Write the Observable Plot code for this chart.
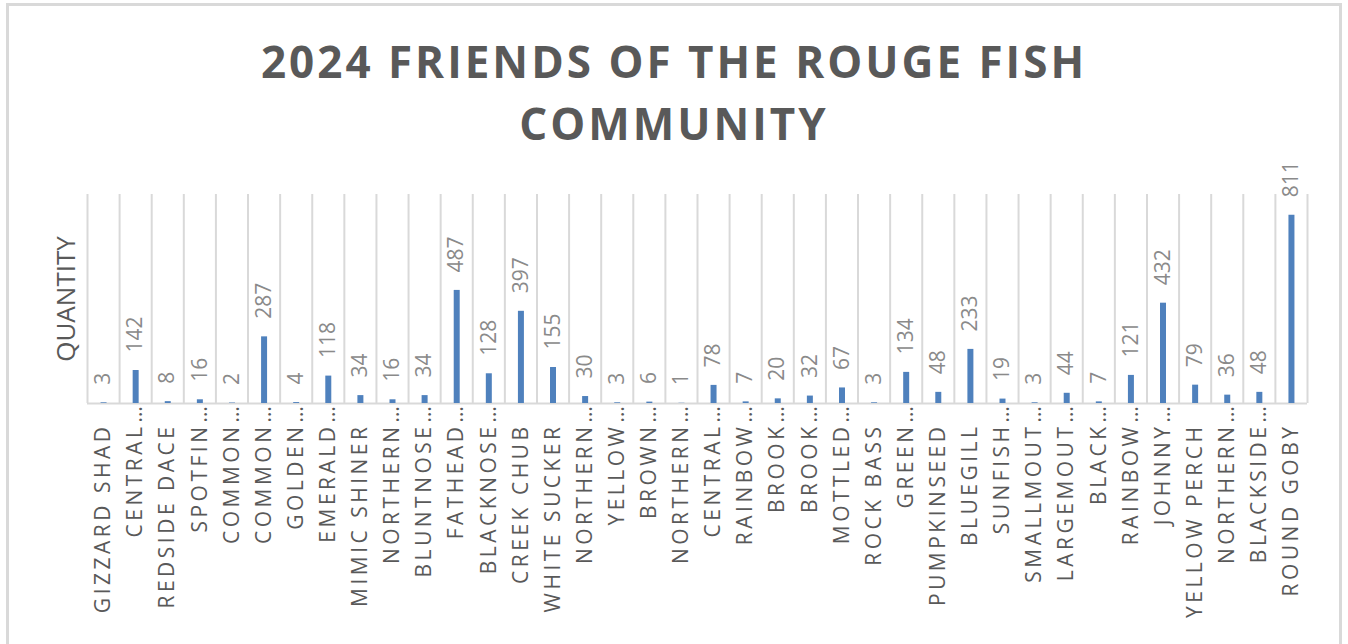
<!DOCTYPE html>
<html>
<head>
<meta charset="utf-8">
<script src="https://cdn.jsdelivr.net/npm/d3@7"></script>
<script src="https://cdn.jsdelivr.net/npm/@observablehq/plot@0.6"></script>
<style>
  html, body { margin: 0; padding: 0; background: #fff; }
  #wrap { position: relative; width: 1348px; height: 644px; overflow: hidden; font-family: "Open Sans", sans-serif; }
  #frame { position: absolute; left: 6px; top: 3px; width: 1330px; height: 700px; border: 3px solid #d9d9d9; box-sizing: content-box; }
  #title { position: absolute; left: 0; top: 30px; width: 1348px; text-align: center; font-family: "Open Sans", sans-serif; font-weight: 700; font-size: 44px; line-height: 62px; letter-spacing: 3px; color: #595959; }
  #chart { position: absolute; left: 0; top: 0; }
</style>
</head>
<body>
<div id="wrap">
  <div id="frame"></div>
  <div id="title"><div>2024 FRIENDS OF THE ROUGE FISH</div><div>COMMUNITY</div></div>
  <div id="chart"></div>
</div>
<script>
const titleLines = ["2024 FRIENDS OF THE ROUGE FISH", "COMMUNITY"];
const yTitle = "QUANTITY";
const labels = [
  "GIZZARD SHAD", "CENTRAL…", "REDSIDE DACE", "SPOTFIN…", "COMMON…", "COMMON…",
  "GOLDEN…", "EMERALD…", "MIMIC SHINER", "NORTHERN…", "BLUNTNOSE…", "FATHEAD…",
  "BLACKNOSE…", "CREEK CHUB", "WHITE SUCKER", "NORTHERN…", "YELLOW…", "BROWN…",
  "NORTHERN…", "CENTRAL…", "RAINBOW…", "BROOK…", "BROOK…", "MOTTLED…",
  "ROCK BASS", "GREEN…", "PUMPKINSEED", "BLUEGILL", "SUNFISH…", "SMALLMOUT…",
  "LARGEMOUT…", "BLACK…", "RAINBOW…", "JOHNNY…", "YELLOW PERCH", "NORTHERN…",
  "BLACKSIDE…", "ROUND GOBY"
];
const values = [
  3, 142, 8, 16, 2, 287,
  4, 118, 34, 16, 34, 487,
  128, 397, 155, 30, 3, 6,
  1, 78, 7, 20, 32, 67,
  3, 134, 48, 233, 19, 3,
  44, 7, 121, 432, 79, 36,
  48, 811
];
const yMax = 900;

const data = labels.map((label, i) => ({
  i, label, value: values[i],
  name: label.replace(/…$/, ""),
  truncated: label.endsWith("…")
}));
const bounds = d3.range(labels.length + 1);
const mid = d => d.i + 0.5;

const labelFont = {fontFamily: "Open Sans", fontSize: 21, fill: "#595959"};

const plot = Plot.plot({
  width: 1348,
  height: 644,
  marginLeft: 87,
  marginRight: 41,
  marginTop: 194,
  marginBottom: 241,
  x: {type: "linear", domain: [0, labels.length], axis: null},
  y: {domain: [0, yMax], axis: null},
  style: {background: "transparent", overflow: "visible"},
  marks: [
    Plot.ruleX(bounds, {x: d => d, stroke: "#d9d9d9", strokeWidth: 2}),
    Plot.ruleY([0], {stroke: "#d9d9d9", strokeWidth: 2}),
    Plot.ruleX(data, {x: mid, y1: 0, y2: "value", stroke: "#4f81bd", strokeWidth: 6}),
    Plot.text(data, {x: mid, y: "value", text: d => String(d.value), rotate: -90,
      textAnchor: "start", lineAnchor: "middle", dy: -18,
      fontFamily: "Open Sans", fontSize: 21, fill: "#8a8a8a"}),
    Plot.text(data, {x: mid, y: 0, text: "name", rotate: -90, textAnchor: "end",
      lineAnchor: "middle", dy: 20, ...labelFont}),
    Plot.text(data.filter(d => d.truncated), {x: mid, y: 0, text: () => "…", rotate: -90,
      textAnchor: "start", lineAnchor: "middle", dy: 19, ...labelFont}),
    Plot.text([yTitle], {frameAnchor: "left", rotate: -90, dx: -21, lineAnchor: "middle",
      textAnchor: "middle", fontFamily: "Open Sans", fontSize: 26, fill: "#595959"})
  ]
});
plot.querySelectorAll("text").forEach(t => {
  if (t.closest("g[aria-label='text']")) {}
});
// letter spacing on category labels (second text mark group)
const groups = plot.querySelectorAll("g[aria-label='text']");
if (groups[1]) groups[1].setAttribute("letter-spacing", "3.5");
document.getElementById("chart").appendChild(plot);
</script>
</body>
</html>
